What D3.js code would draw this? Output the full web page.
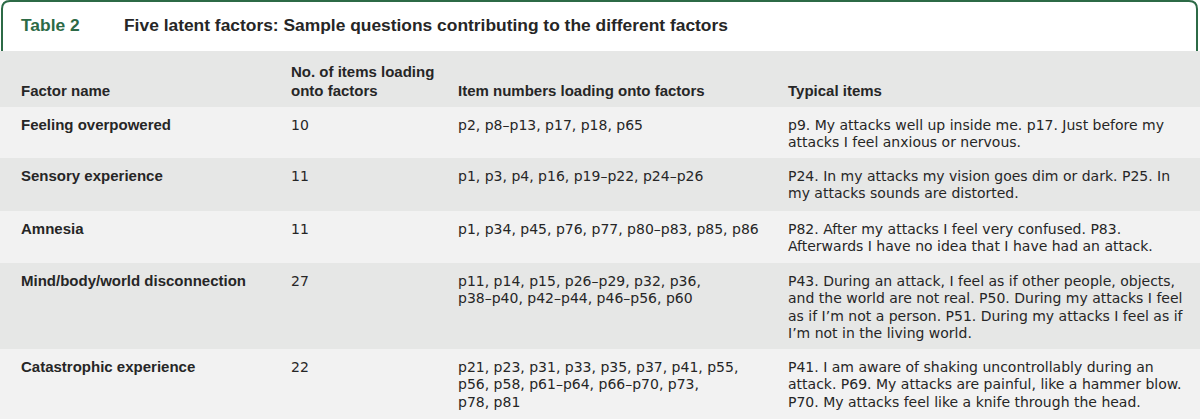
<!DOCTYPE html>
<html>
<head>
<meta charset="utf-8">
<script src="https://cdn.jsdelivr.net/npm/d3@7"></script>
<style>
  body { margin: 0; background: #fff; }
  svg { display: block; font-family: "Liberation Sans", Arial, sans-serif; }
</style>
</head>
<body>
<div id="chart"></div>
<script>
// table data
const tableLabel = "Table 2";
const tableTitle = "Five latent factors: Sample questions contributing to the different factors";

const headers = [
  ["Factor name"],
  ["No. of items loading", "onto factors"],
  ["Item numbers loading onto factors"],
  ["Typical items"]
];

const factorNames = [
  "Feeling overpowered",
  "Sensory experience",
  "Amnesia",
  "Mind/body/world disconnection",
  "Catastrophic experience"
];

const itemCounts = [10, 11, 11, 27, 22];

const itemNumbers = [
  ["p2, p8–p13, p17, p18, p65"],
  ["p1, p3, p4, p16, p19–p22, p24–p26"],
  ["p1, p34, p45, p76, p77, p80–p83, p85, p86"],
  ["p11, p14, p15, p26–p29, p32, p36,", "p38–p40, p42–p44, p46–p56, p60"],
  ["p21, p23, p31, p33, p35, p37, p41, p55,", "p56, p58, p61–p64, p66–p70, p73,", "p78, p81"]
];

const typicalItems = [
  ["p9. My attacks well up inside me. p17. Just before my", "attacks I feel anxious or nervous."],
  ["P24. In my attacks my vision goes dim or dark. P25. In", "my attacks sounds are distorted."],
  ["P82. After my attacks I feel very confused. P83.", "Afterwards I have no idea that I have had an attack."],
  ["P43. During an attack, I feel as if other people, objects,", "and the world are not real. P50. During my attacks I feel", "as if I’m not a person. P51. During my attacks I feel as if", "I’m not in the living world."],
  ["P41. I am aware of shaking uncontrollably during an", "attack. P69. My attacks are painful, like a hammer blow.", "P70. My attacks feel like a knife through the head."]
];

const width = 1200, height = 419;
const green = "#2c6a46";
const textColor = "#262626";
const lineH = 17.3;
const boldFont = "'Liberation Sans', Arial, sans-serif";
const plainFont = "'DejaVu Sans', 'Open Sans', sans-serif";

const colX = [21, 291, 458, 788];
// row boundaries
const rowEdges = [107, 158, 211, 263, 349, 419];

const svg = d3.select("#chart").append("svg")
  .attr("width", width)
  .attr("height", height);

// header band
svg.append("rect")
  .attr("x", 0).attr("y", 51)
  .attr("width", width).attr("height", rowEdges[0] - 51)
  .attr("fill", "#e6e7e6");

const rows = factorNames.map((name, i) => ({
  cells: [[name], [String(itemCounts[i])], itemNumbers[i], typicalItems[i]],
  y0: rowEdges[i],
  y1: rowEdges[i + 1],
  i
}));

const rowG = svg.selectAll(".row")
  .data(rows)
  .enter()
  .append("g")
  .attr("class", "row");

rowG.append("rect")
  .attr("x", 0)
  .attr("y", d => d.y0)
  .attr("width", width)
  .attr("height", d => d.y1 - d.y0)
  .attr("fill", d => d.i % 2 === 0 ? "#f2f2f2" : "#e6e7e6");

rowG.each(function (d) {
  const g = d3.select(this);
  d.cells.forEach((lines, c) => {
    const t = g.append("text")
      .attr("x", colX[c])
      .attr("y", d.y0 + 23)
      .attr("fill", textColor)
      .style("font-family", c === 0 ? boldFont : plainFont)
      .style("font-size", c === 0 ? "15px" : "14px")
      .style("font-weight", c === 0 ? "bold" : "normal");
    lines.forEach((ln, k) => {
      t.append("tspan")
        .attr("x", colX[c])
        .attr("dy", k === 0 ? 0 : lineH)
        .text(ln);
    });
  });
});

// header text
headers.forEach((lines, c) => {
  const t = svg.append("text")
    .attr("x", colX[c])
    .attr("y", 96 - (lines.length - 1) * 19)
    .attr("fill", textColor)
    .style("font-family", boldFont)
    .style("font-size", "15px")
    .style("font-weight", "bold");
  lines.forEach((ln, k) => {
    t.append("tspan")
      .attr("x", colX[c])
      .attr("dy", k === 0 ? 0 : 19)
      .text(ln);
  });
});

// green frame on top
const r = 8;
svg.append("path")
  .attr("d", `M2,51 V${1 + r} Q2,1 ${2 + r},1 H${1197 - r} Q1197,1 1197,${1 + r} V51`)
  .attr("fill", "none")
  .attr("stroke", green)
  .attr("stroke-width", 2);

svg.append("text")
  .attr("x", 21).attr("y", 31)
  .attr("fill", green)
  .style("font-family", boldFont)
  .style("font-size", "17.4px")
  .style("font-weight", "bold")
  .text(tableLabel);

svg.append("text")
  .attr("x", 124).attr("y", 31)
  .attr("fill", textColor)
  .style("font-family", boldFont)
  .style("font-size", "17.4px")
  .style("font-weight", "bold")
  .text(tableTitle);
</script>
</body>
</html>
